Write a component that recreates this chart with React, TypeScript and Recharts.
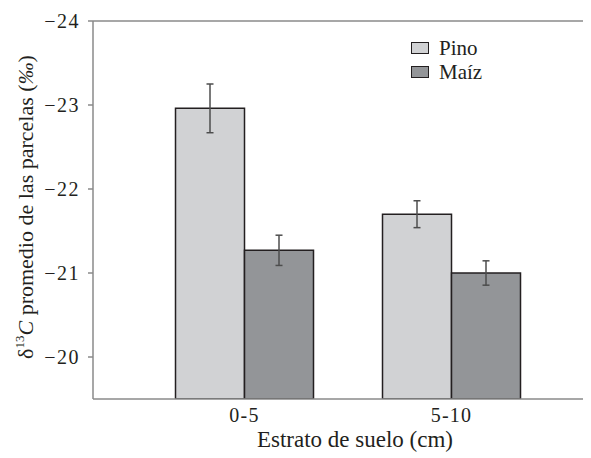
import React from "react";
import { BarChart, Bar, XAxis, YAxis, ErrorBar, ReferenceLine } from "recharts";

const categories = ["0-5", "5-10"];
const pino = [-22.96, -21.7];
const pinoErr = [0.29, 0.16];
const maiz = [-21.27, -21.0];
const maizErr = [0.18, 0.145];
const yTicks = [-24, -23, -22, -21, -20];

const data = categories.map((c, i) => ({
  cat: c,
  pino: pino[i],
  pinoErr: pinoErr[i],
  maiz: maiz[i],
  maizErr: maizErr[i],
}));

const FONT = "Liberation Serif, DejaVu Serif, serif";
const TEXT = "#231f20";
const PINO = "#d1d2d4";
const MAIZ = "#939598";
const AXIS = "#8a8a8a";

const LegendBox = () => (
  <div
    style={{
      position: "absolute",
      left: 403,
      top: 28,
      fontFamily: FONT,
      fontSize: 21,
      color: TEXT,
      lineHeight: "24px",
    }}
  >
    {[
      { name: "Pino", color: PINO },
      { name: "Maíz", color: MAIZ },
    ].map((it) => (
      <div key={it.name} style={{ display: "flex", alignItems: "center", height: 24 }}>
        <div
          style={{
            width: 16,
            height: 10,
            background: it.color,
            border: `1.5px solid ${TEXT}`,
            marginRight: 10,
          }}
        />
        <span>{it.name}</span>
      </div>
    ))}
  </div>
);

const YLabel = () => (
  <text
    transform="translate(25, 199) rotate(-90)"
    textAnchor="middle"
    fontFamily={FONT}
    fontSize={22}
    fill={TEXT}
  >
    <tspan>δ</tspan>
    <tspan fontSize={13} dy={-9}>13</tspan>
    <tspan fontStyle="italic" dy={9}>C</tspan>
    <tspan> promedio de las parcelas (</tspan>
    <tspan fontStyle="italic">‰</tspan>
    <tspan>)</tspan>
  </text>
);

const XLabel = () => (
  <text x={347} y={439} textAnchor="middle" fontFamily={FONT} fontSize={23} fill={TEXT}>
    Estrato de suelo (cm)
  </text>
);

export default function App() {
  return (
    <div style={{ position: "relative", width: 583, height: 450 }}>
      <BarChart
        width={583}
        height={450}
        data={data}
        margin={{ top: 13, right: 0, bottom: 0, left: 0 }}
        barGap={0}
        barCategoryGap="16.67%"
      >
        <XAxis
          dataKey="cat"
          height={59}
          padding={{ left: 48, right: 36 }}
          tickLine={false}
          tickSize={0}
          tickMargin={9}
          axisLine={{ stroke: AXIS, strokeWidth: 1.5 }}
          tick={{ fontFamily: FONT, fontSize: 20, fill: TEXT, style: { letterSpacing: 1.2 } }}
        />
        <YAxis
          type="number"
          width={85}
          reversed
          domain={[-24, -19.5]}
          ticks={yTicks}
          allowDataOverflow
          tickSize={5}
          tickMargin={8}
          axisLine={{ stroke: AXIS, strokeWidth: 1.5 }}
          tickLine={{ stroke: AXIS, strokeWidth: 1.5 }}
          tick={{ fontFamily: FONT, fontSize: 20, fill: TEXT, style: { letterSpacing: 1.5 } }}
          tickFormatter={(v: number) => String(v).replace("-", "\u2212")}
        />
        <ReferenceLine y={-24} stroke={AXIS} strokeWidth={1.5} ifOverflow="visible" />
        <Bar dataKey="pino" fill={PINO} stroke={TEXT} strokeWidth={1.5} isAnimationActive={false}>
          <ErrorBar dataKey="pinoErr" width={3.5} stroke="#4d4d4d" strokeWidth={1.5} direction="y" />
        </Bar>
        <Bar dataKey="maiz" fill={MAIZ} stroke={TEXT} strokeWidth={1.5} isAnimationActive={false}>
          <ErrorBar dataKey="maizErr" width={3.5} stroke="#4d4d4d" strokeWidth={1.5} direction="y" />
        </Bar>
        <YLabel />
        <XLabel />
      </BarChart>
      <LegendBox />
    </div>
  );
}
